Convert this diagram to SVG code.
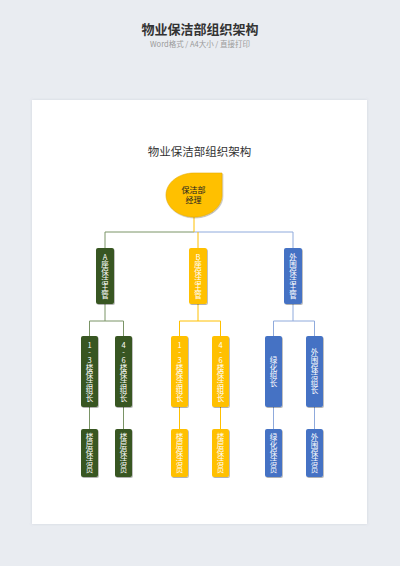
<svg xmlns="http://www.w3.org/2000/svg" width="400" height="566" viewBox="0 0 400 566">
<defs>
<filter id="sh" x="-30%" y="-30%" width="160%" height="160%">
<feDropShadow dx="0.8" dy="1" stdDeviation="0.7" flood-color="#000" flood-opacity="0.3"/>
</filter>
<filter id="card" x="-5%" y="-5%" width="110%" height="110%">
<feDropShadow dx="0" dy="0" stdDeviation="1.5" flood-color="#8a93a6" flood-opacity="0.25"/>
</filter>
<style>
.hd{font-family:"Noto Sans CJK SC","Noto Sans",sans-serif;}
.vt{font-family:"Noto Sans CJK SC","Noto Sans",sans-serif;font-size:7.5px;fill:#ffffff;text-anchor:middle;}
.g{fill:#375623;}
.y{fill:#FFC000;}
.b{fill:#4472C4;}
.lg{stroke:#7a9466;stroke-width:1;fill:none;}
.ly{stroke:#FFC000;stroke-width:1;fill:none;}
.lb{stroke:#8faadc;stroke-width:1;fill:none;}
</style>
</defs>
<rect x="0" y="0" width="400" height="566" fill="#e9ecf1"/>
<text class="hd" x="200" y="34" font-size="13" font-weight="bold" fill="#333333" text-anchor="middle">物业保洁部组织架构</text>
<text class="hd" x="200" y="46.5" font-size="7.5" fill="#9a9a9a" text-anchor="middle">Word格式 / A4大小 / 直接打印</text>
<rect x="32" y="100" width="335" height="424" fill="#ffffff" filter="url(#card)"/>
<text class="hd" x="199.5" y="156" font-size="11.5" fill="#333333" text-anchor="middle">物业保洁部组织架构</text>

<g id="connectors">
<path class="lg" d="M194 232 H105 V248"/>
<path class="lb" d="M194 232 H293 V248"/>
<path class="ly" d="M194 217 V232 M198 232 V248"/>
<path class="lg" d="M105 304 V321 M89.5 336 V321 H123.5 V336"/>
<path class="ly" d="M198 304 V321 M179.5 336 V321 H220.5 V336"/>
<path class="lb" d="M293 304 V321 M273.5 336 V321 H314.5 V336"/>
<path class="lg" d="M89.5 407 V429 M123.5 407 V429"/>
<path class="ly" d="M179.5 407 V429 M220.5 407 V429"/>
<path class="lb" d="M273.5 407 V429 M314.5 407 V429"/>
</g>

<g id="manager">
<path d="M194 173 H222 V195 C222 207.2 209.5 217 194 217 C178.5 217 166 207.2 166 195 C166 182.8 178.5 173 194 173 Z" fill="#FFC000" stroke="#e6ad00" stroke-width="0.6" filter="url(#sh)"/>
<text class="hd" x="193.5" y="193" font-size="8" fill="#222222" text-anchor="middle">保洁部</text>
<text class="hd" x="193.5" y="202.8" font-size="8" fill="#222222" text-anchor="middle">经理</text>
</g>

<g id="a-supervisor"><rect class="g" x="96" y="248" width="18" height="56" rx="2" filter="url(#sh)"/><text class="vt" x="105 105 105 105 105 105" y="259.8 267.4 275 282.6 290.2 297.8">A座保洁主管</text></g>
<g id="b-supervisor"><rect class="y" x="189" y="248" width="18" height="56" rx="2" filter="url(#sh)"/><text class="vt" x="198 198 198 198 198 198" y="259.8 267.4 275 282.6 290.2 297.8">B座保洁主管</text></g>
<g id="outer-supervisor"><rect class="b" x="284" y="248" width="18" height="56" rx="2" filter="url(#sh)"/><text class="vt" x="293 293 293 293 293 293" y="259.8 267.4 275 282.6 290.2 297.8">外围保洁主管</text></g>

<g id="a-lead-1"><rect class="g" x="81" y="336" width="17" height="71" rx="2" filter="url(#sh)"/><text class="vt" x="89.5 89.5 89.5 89.5 89.5 89.5 89.5 89.5" y="347.7 355.3 362.9 370.5 378.1 385.7 393.3 400.9">1-3楼保洁组长</text></g>
<g id="a-lead-2"><rect class="g" x="115" y="336" width="17" height="71" rx="2" filter="url(#sh)"/><text class="vt" x="123.5 123.5 123.5 123.5 123.5 123.5 123.5 123.5" y="347.7 355.3 362.9 370.5 378.1 385.7 393.3 400.9">4-6楼保洁组长</text></g>
<g id="b-lead-1"><rect class="y" x="171" y="336" width="17" height="71" rx="2" filter="url(#sh)"/><text class="vt" x="179.5 179.5 179.5 179.5 179.5 179.5 179.5 179.5" y="347.7 355.3 362.9 370.5 378.1 385.7 393.3 400.9">1-3楼保洁组长</text></g>
<g id="b-lead-2"><rect class="y" x="212" y="336" width="17" height="71" rx="2" filter="url(#sh)"/><text class="vt" x="220.5 220.5 220.5 220.5 220.5 220.5 220.5 220.5" y="347.7 355.3 362.9 370.5 378.1 385.7 393.3 400.9">4-6楼保洁组长</text></g>
<g id="green-lead"><rect class="b" x="265" y="336" width="17" height="71" rx="2" filter="url(#sh)"/><text class="vt" x="273.5 273.5 273.5 273.5" y="362.9 370.5 378.1 385.7">绿化组长</text></g>
<g id="outer-lead"><rect class="b" x="306" y="336" width="17" height="71" rx="2" filter="url(#sh)"/><text class="vt" x="314.5 314.5 314.5 314.5 314.5 314.5" y="355.3 362.9 370.5 378.1 385.7 393.3">外围保洁组长</text></g>

<g id="a-staff-1"><rect class="g" x="81" y="429" width="17" height="48" rx="2" filter="url(#sh)"/><text class="vt" x="89.5 89.5 89.5 89.5 89.5" y="439.8 447.8 455.8 463.8 471.8">楼层保洁员</text></g>
<g id="a-staff-2"><rect class="g" x="115" y="429" width="17" height="48" rx="2" filter="url(#sh)"/><text class="vt" x="123.5 123.5 123.5 123.5 123.5" y="439.8 447.8 455.8 463.8 471.8">楼层保洁员</text></g>
<g id="b-staff-1"><rect class="y" x="171" y="429" width="17" height="48" rx="2" filter="url(#sh)"/><text class="vt" x="179.5 179.5 179.5 179.5 179.5" y="439.8 447.8 455.8 463.8 471.8">楼层保洁员</text></g>
<g id="b-staff-2"><rect class="y" x="212" y="429" width="17" height="48" rx="2" filter="url(#sh)"/><text class="vt" x="220.5 220.5 220.5 220.5 220.5" y="439.8 447.8 455.8 463.8 471.8">楼层保洁员</text></g>
<g id="green-staff"><rect class="b" x="265" y="429" width="17" height="48" rx="2" filter="url(#sh)"/><text class="vt" x="273.5 273.5 273.5 273.5 273.5" y="439.8 447.8 455.8 463.8 471.8">绿化保洁员</text></g>
<g id="outer-staff"><rect class="b" x="306" y="429" width="17" height="48" rx="2" filter="url(#sh)"/><text class="vt" x="314.5 314.5 314.5 314.5 314.5" y="439.8 447.8 455.8 463.8 471.8">外围保洁员</text></g>
</svg>
